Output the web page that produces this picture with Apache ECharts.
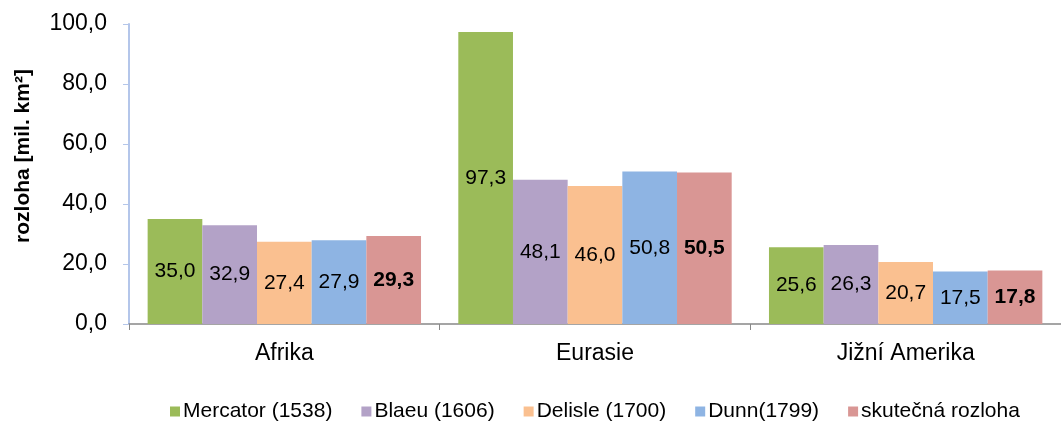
<!DOCTYPE html>
<html>
<head>
<meta charset="utf-8">
<script src="https://cdn.jsdelivr.net/npm/echarts@6/dist/echarts.min.js"></script>
<style>
html,body{margin:0;padding:0;background:#fff;}
#chart{width:1061px;height:424px;}
</style>
</head>
<body>
<div id="chart"></div>
<script>
// Continents and the area each historical map gives them (mil. km²)
const categories = ['Afrika', 'Eurasie', 'Jižní Amerika'];
const seriesNames = ['Mercator (1538)', 'Blaeu (1606)', 'Delisle (1700)', 'Dunn(1799)', 'skutečná rozloha'];
const mercator = [35.0, 97.3, 25.6];
const blaeu = [32.9, 48.1, 26.3];
const delisle = [27.4, 46.0, 20.7];
const dunn = [27.9, 50.8, 17.5];
const actual = [29.3, 50.5, 17.8];
const yTicks = [0, 20, 40, 60, 80, 100];
const yTitle = 'rozloha [mil. km²]';

const colors = ['#9bbb59', '#b3a2c7', '#fac090', '#8eb4e3', '#d99694'];
const values = [mercator, blaeu, delisle, dunn, actual];
const FONT = '"Liberation Sans", Arial, sans-serif';
const fmt = v => v.toFixed(1).replace('.', ',');

const chart = echarts.init(document.getElementById('chart'), null, {renderer: 'canvas'});

const series = values.map((vals, i) => ({
  name: seriesNames[i],
  type: 'bar',
  data: vals,
  barGap: '0%',
  barCategoryGap: '12%',
  itemStyle: {color: colors[i]},
  label: {
    show: true,
    position: 'inside',
    color: '#000',
    fontFamily: FONT,
    fontSize: 21,
    fontWeight: i === 4 ? 'bold' : 'normal',
    formatter: p => fmt(p.value)
  }
}));

chart.setOption({
  animation: false,
  backgroundColor: '#fff',
  color: colors,
  grid: {left: 129, top: 24, width: 936, bottom: 100},
  legend: {
    left: 170,
    top: 401,
    padding: 0,
    itemWidth: 10,
    itemHeight: 10,
    itemGap: 29,
    icon: 'rect',
    textStyle: {fontFamily: FONT, fontSize: 21, color: '#000', padding: [0, 0, 0, -2]},
    data: seriesNames
  },
  xAxis: {
    type: 'category',
    data: categories,
    axisLine: {lineStyle: {color: '#888', width: 1.5}},
    axisTick: {show: true, length: 6, lineStyle: {color: '#888'}},
    axisLabel: {fontFamily: FONT, fontSize: 23, color: '#000', margin: 18}
  },
  yAxis: {
    type: 'value',
    min: yTicks[0],
    max: yTicks[yTicks.length - 1],
    interval: yTicks[1] - yTicks[0],
    axisLine: {show: true, lineStyle: {color: '#b4c6ea', width: 2}},
    axisTick: {show: true, length: 6, lineStyle: {color: '#b4c6ea'}},
    splitLine: {show: false},
    axisLabel: {
      fontFamily: FONT, fontSize: 23, color: '#000', margin: 22,
      formatter: v => fmt(v)
    }
  },
  graphic: [{
    type: 'text',
    x: 23,
    y: 156,
    rotation: Math.PI / 2,
    style: {
      text: yTitle,
      fontFamily: FONT,
      fontSize: 21,
      fontWeight: 'bold',
      fill: '#000',
      align: 'center',
      verticalAlign: 'middle'
    }
  }],
  series: series
});
</script>
</body>
</html>
